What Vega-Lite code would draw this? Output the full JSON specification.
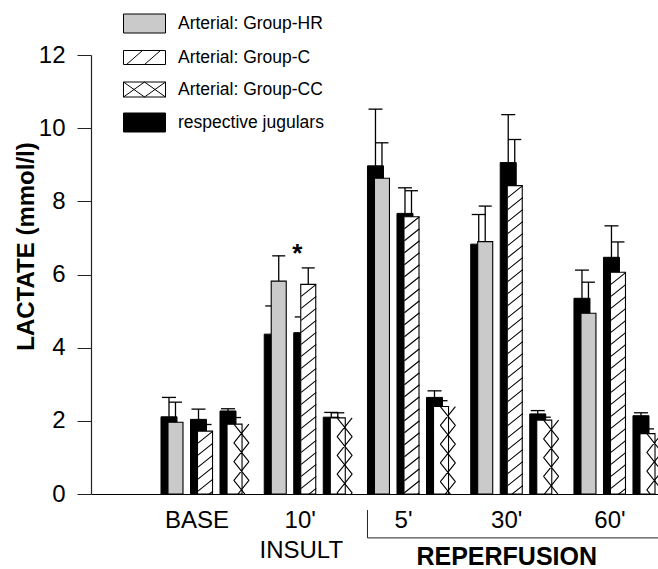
{
  "$schema": "https://vega.github.io/schema/vega-lite/v6.json",
  "autosize": "none",
  "padding": {"left": 91, "top": 55, "right": 0, "bottom": 75},
  "width": 567,
  "height": 439,
  "config": {
    "font": "Liberation Sans",
    "view": {"stroke": null},
    "axis": {"grid": false},
    "legend": {"labelFontSize": 17.5, "labelColor": "black", "labelLimit": 400, "symbolSize": 400, "labelOffset": 23, "rowPadding": 12}
  },
  "resolve": {"scale": {"xOffset": "independent"}},
  "datasets": {
    "lactate": [
      {"time": "BASE", "group": "HR", "jug": 2.11, "jugUp": 2.64, "art": 1.96, "artUp": 2.51},
      {"time": "BASE", "group": "C", "jug": 2.04, "jugUp": 2.32, "art": 1.72, "artUp": 1.90},
      {"time": "BASE", "group": "CC", "jug": 2.27, "jugUp": 2.33, "art": 1.91, "artUp": 2.09},
      {"time": "10'", "group": "HR", "jug": 4.37, "jugUp": 5.14, "art": 5.82, "artUp": 6.51},
      {"time": "10'", "group": "C", "jug": 4.41, "jugUp": 4.84, "art": 5.73, "artUp": 6.18},
      {"time": "10'", "group": "CC", "jug": 2.10, "jugUp": 2.23, "art": 2.08, "artUp": 2.22},
      {"time": "5'", "group": "HR", "jug": 8.97, "jugUp": 10.52, "art": 8.63, "artUp": 9.60},
      {"time": "5'", "group": "C", "jug": 7.67, "jugUp": 8.37, "art": 7.58, "artUp": 8.29},
      {"time": "5'", "group": "CC", "jug": 2.64, "jugUp": 2.82, "art": 2.39, "artUp": 2.55},
      {"time": "30'", "group": "HR", "jug": 6.83, "jugUp": 7.64, "art": 6.90, "artUp": 7.87},
      {"time": "30'", "group": "C", "jug": 9.06, "jugUp": 10.37, "art": 8.43, "artUp": 9.69},
      {"time": "30'", "group": "CC", "jug": 2.19, "jugUp": 2.28, "art": 2.02, "artUp": 2.10},
      {"time": "60'", "group": "HR", "jug": 5.35, "jugUp": 6.12, "art": 4.94, "artUp": 5.79},
      {"time": "60'", "group": "C", "jug": 6.47, "jugUp": 7.33, "art": 6.06, "artUp": 6.89},
      {"time": "60'", "group": "CC", "jug": 2.14, "jugUp": 2.22, "art": 1.65, "artUp": 1.78}
    ]
  },
  "data": {"name": "lactate"},
  "layer": [
    {
      "mark": {"type": "bar", "fill": "black", "stroke": "black", "strokeWidth": 1},
      "encoding": {
        "x": {
          "field": "time", "type": "nominal",
          "sort": ["BASE", "10'", "5'", "30'", "60'"],
          "scale": {"domain": ["BASE", "10'", "5'", "30'", "60'"], "paddingInner": 0.186, "paddingOuter": 0.339, "align": 1},
          "axis": {"title": null, "ticks": false, "labelAngle": 0, "labelFontSize": 24, "labelColor": "black", "labelPadding": 14, "labelOffset": -6, "domainColor": "black", "domainWidth": 1.2}
        },
        "xOffset": {
          "field": "group", "type": "nominal",
          "scale": {"domain": ["HR", "C", "CC"], "paddingInner": 0.458, "paddingOuter": 0.153, "align": 0}
        },
        "y": {
          "field": "jug", "type": "quantitative",
          "scale": {"domain": [0, 12], "nice": false},
          "axis": {
            "title": "LACTATE (mmol/l)", "values": [0, 2, 4, 6, 8, 10, 12],
            "tickSize": 14, "tickColor": "#222", "tickWidth": 1, "domainColor": "#222", "domainWidth": 1.2,
            "labelFontSize": 24, "labelColor": "black", "labelPadding": 12,
            "titleFontSize": 24, "titleFontWeight": "bold", "titleColor": "black",
            "titleX": -58, "titleY": 191, "titleBaseline": "alphabetic"
          }
        }
      }
    },
    {
      "mark": {"type": "rule", "color": "black", "strokeWidth": 1.3},
      "encoding": {
        "x": {"field": "time", "type": "nominal"},
        "xOffset": {"field": "group", "type": "nominal", "scale": {"domain": ["HR", "C", "CC"], "paddingInner": 0.458, "paddingOuter": 0.153, "align": 0}},
        "y": {"field": "jug", "type": "quantitative"},
        "y2": {"field": "jugUp"}
      }
    },
    {
      "mark": {"type": "tick", "orient": "horizontal", "size": 14, "thickness": 1.3, "color": "black", "opacity": 1},
      "encoding": {
        "x": {"field": "time", "type": "nominal"},
        "xOffset": {"field": "group", "type": "nominal", "scale": {"domain": ["HR", "C", "CC"], "paddingInner": 0.458, "paddingOuter": 0.153, "align": 0}},
        "y": {"field": "jugUp", "type": "quantitative"}
      }
    },
    {
      "mark": {"type": "bar", "stroke": "black", "strokeWidth": 1.1},
      "encoding": {
        "x": {"field": "time", "type": "nominal"},
        "xOffset": {"field": "group", "type": "nominal", "scale": {"domain": ["HR", "C", "CC"], "paddingInner": 0.4915, "paddingOuter": 0.169, "align": 0.7}},
        "y": {"field": "art", "type": "quantitative"},
        "fill": {"condition": {"test": "datum.group === 'HR'", "value": "#cacaca"}, "value": "white"}
      }
    },
    {
      "transform": [{"filter": "datum.group === 'C'"}],
      "mark": {
        "type": "point", "clip": true, "filled": false, "opacity": 1, "size": 225,
        "stroke": "black", "strokeWidth": 1.1,
        "shape": "M-1,1.6L1,0M-1,3.2L1,1.6M-1,4.8L1,3.2M-1,6.4L1,4.8M-1,8L1,6.4M-1,9.6L1,8M-1,11.2L1,9.6M-1,12.8L1,11.2M-1,14.4L1,12.8M-1,16L1,14.4M-1,17.6L1,16M-1,19.2L1,17.6M-1,20.8L1,19.2M-1,22.4L1,20.8M-1,24L1,22.4M-1,25.6L1,24M-1,27.2L1,25.6M-1,28.8L1,27.2M-1,30.4L1,28.8M-1,32L1,30.4M-1,33.6L1,32M-1,35.2L1,33.6M-1,36.8L1,35.2M-1,38.4L1,36.8M-1,40L1,38.4M-1,41.6L1,40M-1,43.2L1,41.6M-1,44.8L1,43.2M-1,46.4L1,44.8M-1,48L1,46.4M-1,49.6L1,48M-1,51.2L1,49.6M-1,52.8L1,51.2M-1,54.4L1,52.8M-1,56L1,54.4M-1,57.6L1,56M-1,59.2L1,57.6M-1,60.8L1,59.2"
      },
      "encoding": {
        "x": {"field": "time", "type": "nominal"},
        "xOffset": {"field": "group", "type": "nominal", "scale": {"domain": ["HR", "C", "CC"], "paddingInner": 0.4915, "paddingOuter": 0.169, "align": 0.7}},
        "y": {"field": "art", "type": "quantitative"}
      }
    },
    {
      "transform": [{"filter": "datum.group === 'CC'"}],
      "mark": {
        "type": "point", "clip": true, "filled": false, "opacity": 1, "size": 225,
        "stroke": "black", "strokeWidth": 1.1, "strokeJoin": "bevel",
        "shape": "M-1,0L1,2.5L-1,5L1,7.5L-1,10L1,12.5L-1,15L1,17.5L-1,20L1,22.5L-1,25L1,27.5L-1,30L1,32.5L-1,35L1,37.5L-1,40L1,42.5L-1,45L1,47.5L-1,50L1,52.5L-1,55L1,57.5L-1,60M1,0L-1,2.5L1,5L-1,7.5L1,10L-1,12.5L1,15L-1,17.5L1,20L-1,22.5L1,25L-1,27.5L1,30L-1,32.5L1,35L-1,37.5L1,40L-1,42.5L1,45L-1,47.5L1,50L-1,52.5L1,55L-1,57.5L1,60"
      },
      "encoding": {
        "x": {"field": "time", "type": "nominal"},
        "xOffset": {"field": "group", "type": "nominal", "scale": {"domain": ["HR", "C", "CC"], "paddingInner": 0.4915, "paddingOuter": 0.169, "align": 0.7}},
        "y": {"field": "art", "type": "quantitative"}
      }
    },
    {
      "mark": {"type": "rule", "color": "black", "strokeWidth": 1.3},
      "encoding": {
        "x": {"field": "time", "type": "nominal"},
        "xOffset": {"field": "group", "type": "nominal", "scale": {"domain": ["HR", "C", "CC"], "paddingInner": 0.4915, "paddingOuter": 0.169, "align": 0.7}},
        "y": {"field": "art", "type": "quantitative"},
        "y2": {"field": "artUp"}
      }
    },
    {
      "mark": {"type": "tick", "orient": "horizontal", "size": 13, "thickness": 1.3, "color": "black", "opacity": 1},
      "encoding": {
        "x": {"field": "time", "type": "nominal"},
        "xOffset": {"field": "group", "type": "nominal", "scale": {"domain": ["HR", "C", "CC"], "paddingInner": 0.4915, "paddingOuter": 0.169, "align": 0.7}},
        "y": {"field": "artUp", "type": "quantitative"}
      }
    },
    {
      "data": {"values": [{"t": "*"}]},
      "mark": {"type": "text", "fontSize": 26, "fontWeight": "bold", "dx": -9, "color": "black", "baseline": "alphabetic"},
      "encoding": {
        "x": {"datum": "10'", "type": "nominal"},
        "y": {"datum": 6.34, "type": "quantitative"},
        "text": {"field": "t"}
      }
    },
    {
      "data": {"values": [{"t": "INSULT"}]},
      "mark": {"type": "text", "fontSize": 24, "dx": -5, "color": "black", "baseline": "alphabetic"},
      "encoding": {
        "x": {"datum": "10'", "type": "nominal"},
        "y": {"datum": -1.76, "type": "quantitative"},
        "text": {"field": "t"}
      }
    },
    {
      "data": {"values": [{"t": "REPERFUSION"}]},
      "mark": {"type": "text", "fontSize": 25, "fontWeight": "bold", "dx": -6, "color": "black", "baseline": "alphabetic"},
      "encoding": {
        "x": {"datum": "30'", "type": "nominal"},
        "y": {"datum": -1.95, "type": "quantitative"},
        "text": {"field": "t"}
      }
    },
    {
      "data": {"values": [{"t": "bracket"}]},
      "mark": {"type": "rule", "color": "#222", "strokeWidth": 1},
      "encoding": {
        "x": {"datum": "5'", "type": "nominal", "bandPosition": 0},
        "y": {"datum": -0.44, "type": "quantitative"},
        "y2": {"datum": -1.2}
      }
    },
    {
      "data": {"values": [{"t": "bracket"}]},
      "mark": {"type": "rule", "color": "#222", "strokeWidth": 1},
      "encoding": {
        "x": {"datum": "5'", "type": "nominal", "bandPosition": 0},
        "x2": {"datum": "60'", "bandPosition": 1},
        "y": {"datum": -1.2, "type": "quantitative"}
      }
    },
    {
      "data": {"values": []},
      "mark": {"type": "point", "filled": true, "opacity": 1, "size": 400, "strokeWidth": 1},
      "encoding": {
        "fill": {
          "field": "series", "type": "nominal",
          "scale": {
            "domain": ["Arterial: Group-HR", "Arterial: Group-C", "Arterial: Group-CC", "respective jugulars"],
            "range": ["#cacaca", "white", "white", "black"]
          },
          "legend": {
            "title": null, "orient": "none", "legendX": 43, "legendY": -42,
            "symbolSize": 400, "labelOffset": 23, "rowPadding": 12,
            "labelFontSize": 17.5, "labelColor": "black", "labelLimit": 400,
            "symbolStrokeWidth": 1, "symbolOpacity": 1, "padding": 0
          }
        },
        "stroke": {
          "field": "series", "type": "nominal",
          "scale": {
            "domain": ["Arterial: Group-HR", "Arterial: Group-C", "Arterial: Group-CC", "respective jugulars"],
            "range": ["black", "black", "black", "black"]
          },
          "legend": {
            "title": null, "orient": "none", "legendX": 43, "legendY": -42,
            "symbolSize": 400, "labelOffset": 23, "rowPadding": 12,
            "labelFontSize": 17.5, "labelColor": "black", "labelLimit": 400,
            "symbolStrokeWidth": 1, "symbolOpacity": 1, "padding": 0
          }
        },
        "shape": {
          "field": "series", "type": "nominal",
          "scale": {
            "domain": ["Arterial: Group-HR", "Arterial: Group-C", "Arterial: Group-CC", "respective jugulars"],
            "range": [
              "M-2.1,-0.95H2.1V0.95H-2.1Z",
              "M-2.1,-0.7H2.1V0.7H-2.1ZM-1.8,0.7L-0.2,-0.7M0,0.7L1.6,-0.7",
              "M-2.1,-0.75H2.1V0.75H-2.1ZM-2.1,-0.75L0,0.75L2.1,-0.75M-2.1,0.75L0,-0.75L2.1,0.75",
              "M-2.1,-0.95H2.1V0.95H-2.1Z"
            ]
          },
          "legend": {
            "title": null, "orient": "none", "legendX": 43, "legendY": -42,
            "symbolSize": 400, "labelOffset": 23, "rowPadding": 12,
            "labelFontSize": 17.5, "labelColor": "black", "labelLimit": 400,
            "symbolStrokeWidth": 1, "symbolOpacity": 1, "padding": 0
          }
        }
      }
    }
  ]
}
